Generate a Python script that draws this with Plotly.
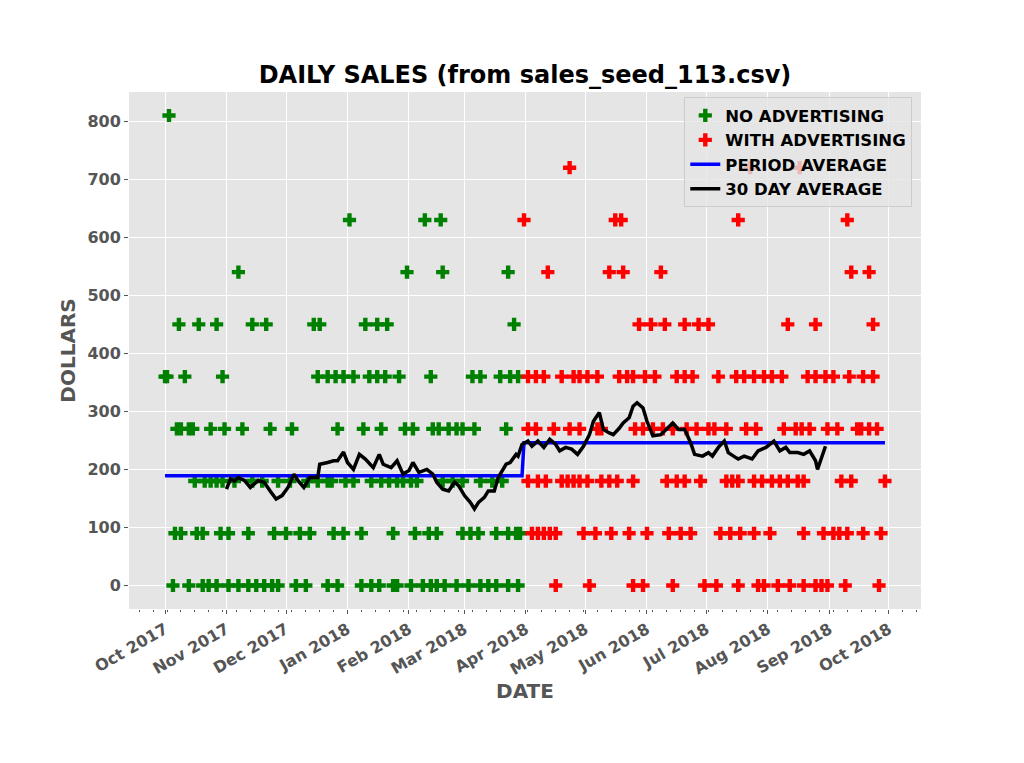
import pandas as pd
import plotly.graph_objects as go

START = "2017-10-01"
SPLIT_DAY = 181          # first day with advertising (offset from START)

# day offsets (from START) on which each sales level was recorded
days_0 = [4, 12, 19, 22, 26, 32, 37, 42, 46, 50, 54, 57, 66, 71, 82, 87, 99, 104, 108,
          115, 117, 124, 130, 134, 137, 141, 147, 153, 159, 163, 167, 173, 178, 197, 214,
          236, 241, 256, 272, 278, 289, 299, 302, 309, 315, 322, 328, 331, 334, 343, 360]
days_90 = [5, 8, 16, 19, 28, 32, 42, 55, 61, 68, 73, 85, 90, 99, 115, 126, 133, 137, 150,
           154, 158, 167, 173, 177, 179, 185, 188, 191, 194, 197, 211, 217, 225, 234, 243,
           254, 260, 265, 280, 285, 290, 297, 305, 322, 332, 337, 340, 344, 352, 361]
days_180 = [15, 20, 23, 26, 29, 35, 44, 49, 57, 63, 72, 77, 82, 84, 91, 95, 104, 109, 113,
            117, 120, 124, 127, 140, 145, 150, 159, 165, 170, 183, 188, 192, 200, 203, 206,
            209, 213, 220, 224, 228, 236, 253, 258, 262, 270, 283, 286, 289, 297, 301, 306,
            310, 314, 319, 322, 341, 346, 363]
days_270 = [6, 8, 12, 14, 23, 30, 39, 53, 64, 87, 100, 109, 121, 125, 135, 138, 143, 147,
            150, 156, 172, 183, 187, 196, 204, 209, 218, 220, 237, 241, 246, 251, 256, 263,
            268, 274, 277, 283, 293, 298, 312, 318, 321, 325, 334, 339, 349, 351, 355, 359]
days_360 = [0, 1, 10, 29, 77, 82, 86, 90, 95, 103, 107, 111, 118, 134, 155, 159, 169, 174,
            178, 183, 187, 191, 200, 206, 209, 213, 218, 229, 233, 236, 242, 247, 258, 262,
            266, 279, 288, 292, 297, 302, 306, 311, 324, 328, 333, 337, 345, 352, 357]
days_450 = [7, 17, 26, 44, 51, 75, 78, 101, 107, 112, 176, 239, 245, 252, 262, 269, 274,
            314, 328, 357]
days_540 = [37, 122, 140, 173, 193, 224, 231, 250, 346, 355]
days_630 = [93, 131, 139, 181, 227, 230, 289, 344]
days_720 = [204, 295, 320]
days_810 = [2]

levels = [0, 90, 180, 270, 360, 450, 540, 630, 720, 810]
level_days = [days_0, days_90, days_180, days_270, days_360,
              days_450, days_540, days_630, days_720, days_810]

# mean of each period (no advertising / with advertising)
period_avg = [189, 246]
LAST_DAY = 363

# 30 day average (day offset, dollars)
avg30_day = [31, 33, 35, 37, 40, 43, 47, 50, 53, 56, 59, 62, 65, 67, 70, 73, 77, 78, 82,
             85, 87, 90, 92, 95, 98, 101, 105, 108, 110, 114, 117, 120, 123, 125, 128, 132,
             135, 137, 140, 143, 146, 148, 151, 154, 156, 158, 161, 163, 166, 168, 172,
             174, 177, 178, 180, 183, 185, 188, 191, 194, 197, 199, 202, 205, 208, 211,
             214, 216, 219, 221, 224, 226, 229, 231, 234, 236, 238, 241, 243, 246, 250,
             253, 256, 259, 262, 265, 267, 271, 274, 276, 279, 282, 284, 288, 289, 292,
             296, 299, 303, 307, 310, 313, 315, 319, 322, 325, 328, 329, 331, 333]
avg30_val = [166, 184, 180, 186, 181, 169, 181, 178, 163, 149, 155, 169, 192, 181, 169, 186,
             186, 209, 212, 215, 215, 230, 212, 200, 226, 218, 203, 226, 209, 203, 215, 192,
             198, 212, 195, 200, 192, 178, 166, 163, 178, 172, 155, 143, 132, 143, 152, 163,
             163, 186, 209, 212, 226, 223, 243, 249, 240, 249, 238, 252, 243, 232, 238, 235,
             226, 240, 260, 283, 298, 269, 263, 260, 271, 280, 289, 309, 315, 306, 283, 258,
             260, 269, 280, 269, 269, 246, 226, 223, 229, 223, 238, 249, 229, 220, 218, 223,
             218, 232, 238, 249, 232, 238, 229, 229, 226, 232, 215, 200, 220, 240]

GREY = "#555555"
FONT = "DejaVu Sans"

start = pd.Timestamp(START)
rows = [(d, lv) for lv, ds in zip(levels, level_days) for d in ds]
df = pd.DataFrame(rows, columns=["day", "sales"]).sort_values("day", ignore_index=True)
df["date"] = start + pd.to_timedelta(df["day"], unit="D")
no_ad = df[df["day"] < SPLIT_DAY]
with_ad = df[df["day"] >= SPLIT_DAY]

all_days = pd.Series(range(LAST_DAY + 1))
period_line = all_days.map(lambda d: period_avg[0] if d < SPLIT_DAY else period_avg[1])
period_dates = start + pd.to_timedelta(all_days, unit="D")
avg30_dates = start + pd.to_timedelta(pd.Series(avg30_day), unit="D")

fig = go.Figure()
fig.add_trace(go.Scatter(x=no_ad["date"], y=no_ad["sales"], mode="markers",
                         name="NO ADVERTISING",
                         marker=dict(symbol="cross", size=11, color="green",
                                     line=dict(width=0))))
fig.add_trace(go.Scatter(x=with_ad["date"], y=with_ad["sales"], mode="markers",
                         name="WITH ADVERTISING",
                         marker=dict(symbol="cross", size=11, color="red",
                                     line=dict(width=0))))
fig.add_trace(go.Scatter(x=period_dates, y=period_line, mode="lines",
                         name="PERIOD AVERAGE", line=dict(color="blue", width=3.5)))
fig.add_trace(go.Scatter(x=avg30_dates, y=avg30_val, mode="lines",
                         name="30 DAY AVERAGE", line=dict(color="black", width=3.5)))

# page body adds an 8px offset at top/left, so the figure is 8px smaller
fig.update_layout(
    width=1016, height=755,
    margin=dict(l=121, r=103, t=84, b=154),
    paper_bgcolor="white", plot_bgcolor="#E5E5E5",
    font=dict(family=FONT, weight="bold", color=GREY, size=16),
    title=dict(text="DAILY SALES (from sales_seed_113.csv)", x=0.5, xref="paper",
               y=1 - 67 / 755, yref="container", yanchor="middle",
               font=dict(family=FONT, weight="bold", color="black", size=24)),
    legend=dict(x=0.989, y=0.99, xanchor="right", yanchor="top",
                bgcolor="rgba(229,229,229,0.8)", bordercolor="#cccccc", borderwidth=1,
                font=dict(family=FONT, weight="bold", color="black", size=16.5)),
)
fig.update_xaxes(
    range=["2017-09-12 20:00", "2018-10-17 04:00"],
    tickformat="%b %Y", dtick="M1", tick0="2017-10-01", tickangle=-30,
    showgrid=True, gridcolor="white", gridwidth=1, zeroline=False,
    ticks="outside", ticklen=4, tickcolor=GREY,
    minor=dict(ticks="outside", ticklen=2, tickcolor=GREY,
               dtick=7 * 86400000, tick0="2017-10-02", showgrid=False),
    title=dict(text="DATE", standoff=5, font=dict(size=20, color=GREY, weight="bold")),
)
fig.update_yaxes(
    range=[-40.5, 850.5], dtick=100, tick0=0,
    showgrid=True, gridcolor="white", gridwidth=1, zeroline=False,
    ticks="outside", ticklen=4, tickcolor=GREY,
    title=dict(text="DOLLARS", standoff=6, font=dict(size=20, color=GREY, weight="bold")),
)

fig.write_html("out.html")
